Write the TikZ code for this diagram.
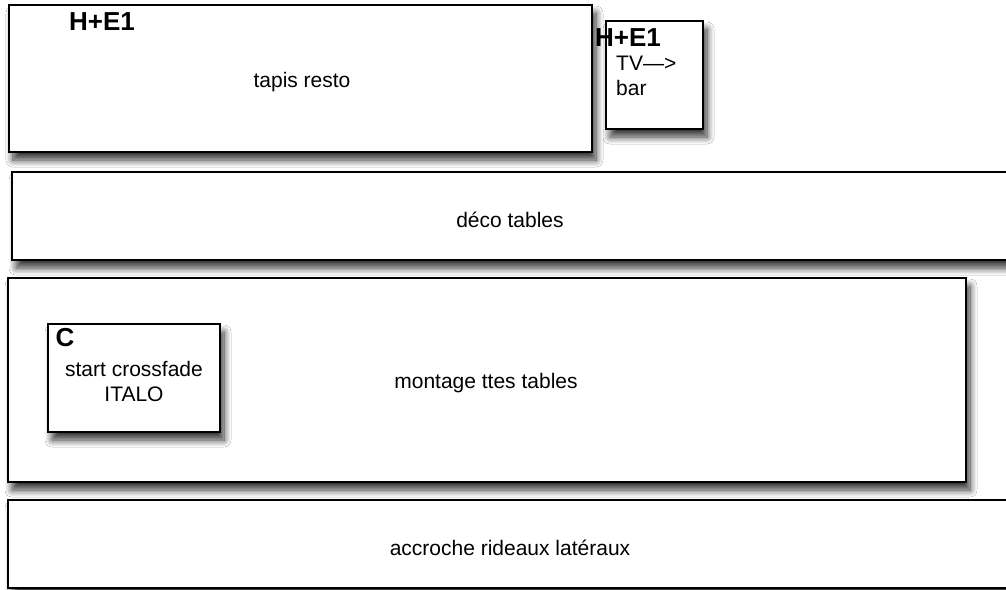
\documentclass[tikz,border=0pt]{standalone}
\usepackage{fontspec}
\setmainfont{Liberation Sans}
\usetikzlibrary{shadows.blur}

\begin{document}
\begin{tikzpicture}[x=1pt, y=-1pt]
\tikzset{boite/.style={draw, line width=1.6pt, fill=white, rectangle, inner sep=0pt,
    blur shadow={shadow xshift=4pt, shadow yshift=-8pt, shadow blur radius=7pt,
      shadow blur steps=10, shadow opacity=80}},
  texte/.style={font=\fontsize{21}{25}\selectfont, inner sep=0pt},
  gras/.style={font=\fontsize{26}{28}\selectfont\bfseries, inner sep=0pt}}
\useasboundingbox (0, 0) rectangle (1006, 589);
\clip (0, 0) rectangle (1006, 589);
\fill[white] (0, 0) rectangle (1006, 589);
\node[boite, minimum width=583, minimum height=147] (tapis) at (300.5, 78.5) {};
\node[boite, minimum width=97, minimum height=108] (tv) at (654.5, 75) {};
\node[boite, minimum width=1010, minimum height=88] (deco) at (517, 216) {};
\node[boite, minimum width=958, minimum height=204] (montage) at (487, 380) {};
\node[boite, minimum width=172, minimum height=108] (crossfade) at (134, 378) {};
\node[boite, minimum width=1012, minimum height=88] (rideaux) at (514, 544) {};
\node[gras] (he1) at (102, 22) {H+E1};
\node[texte] (tapistxt) at (302, 82) {tapis resto};
\node[gras] (he2) at (628, 38) {H+E1};
\node[texte, align=left, anchor=north west] (tvtxt) at (616, 56) {TV--->\\bar};
\node[texte] (decotxt) at (510, 220) {déco tables};
\node[gras] (c) at (65, 338) {C};
\node[texte, align=center] (crosstxt) at (134, 381) {start crossfade\\ITALO};
\node[texte] (montagetxt) at (486, 383) {montage ttes tables};
\node[texte] (rideauxtxt) at (510, 548) {accroche rideaux latéraux};
\end{tikzpicture}
\end{document}
